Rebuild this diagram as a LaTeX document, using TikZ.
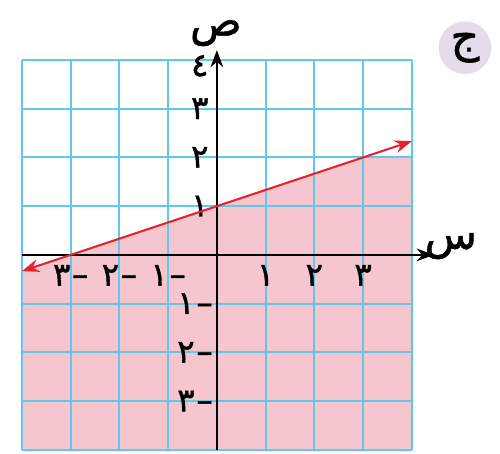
\documentclass[tikz,border=0pt]{standalone}
\usepackage{fontspec}
\newfontfamily\arabicfont[Script=Arabic, FakeBold=1.2]{DejaVu Sans}
\TeXXeTstate=1
\usetikzlibrary{arrows.meta}
\definecolor{gridblue}{RGB}{95,200,235}
\definecolor{shadepink}{RGB}{246,198,206}
\definecolor{linered}{RGB}{228,35,45}
\definecolor{badgelilac}{RGB}{228,220,236}

\begin{document}
\begin{tikzpicture}[>={Stealth[length=10pt, width=7.5pt]},
  num/.style={font=\arabicfont\fontsize{19}{21}\selectfont, inner sep=1pt},
  axislabel/.style={font=\arabicfont\fontsize{25}{27}\selectfont, inner sep=0pt},
  badge/.style={circle, fill=badgelilac, minimum size=1.08cm, inner sep=0pt, font=\arabicfont\fontsize{26}{28}\selectfont}]
  \useasboundingbox (-4.45,-4.08) rectangle (5.81,5.23);
  % shaded region
  \fill[shadepink] (-4,-4) -- (4,-4) -- (4,2) -- (3,2) -- (-4,-1/3) -- cycle;
  \draw[gridblue, line width=1.2pt] (-4,-4) grid (4,4);
  % axes
  \coordinate (xmin) at (-4,0);
  \coordinate (xmax) at (4.45,0);
  \coordinate (ymin) at (0,-4);
  \coordinate (ymax) at (0,4.2);
  \draw[->, thick] (xmin) -- (xmax);
  \draw[->, thick] (ymin) -- (ymax);
  \node[axislabel] (xname) at (4.8,0.18) {\beginR س\endR};
  \node[axislabel] (yname) at (-0.02,4.55) {\beginR ص\endR};
  % tick labels
  \foreach \n/\d in {1/١,2/٢,3/٣}
    \node[num] (xp\n) at (\n,-0.42) {\d};
  \foreach \n/\d in {1/١,2/٢,3/٣}
    \node[num] (xn\n) at (-\n,-0.42) {\d\kern1pt–};
  \foreach \n/\d in {1/١,2/٢,3/٣}
    \node[num] (yp\n) at (-0.35,\n) {\d};
  \node[num] (yp4) at (-0.35,3.88) {٤};
  \foreach \n/\d in {1/١,2/٢,3/٣}
    \node[num] (yn\n) at (-0.45,-\n) {\d\kern1pt–};
  % boundary line
  \coordinate (lstart) at (-4,-1/3);
  \coordinate (lend) at (4,7/3);
  \draw[<->, linered, very thick] (lstart) -- (lend);
  \node[badge] (tag) at (5.09,4.25) {\beginR ج\endR};
\end{tikzpicture}
\end{document}
